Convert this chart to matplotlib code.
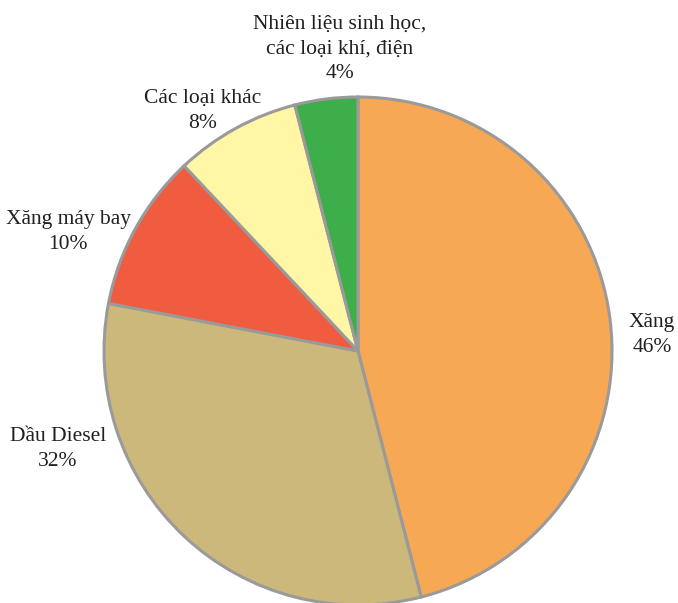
import matplotlib.pyplot as plt

plt.rcParams['font.family'] = ['Liberation Serif', 'DejaVu Serif']

# Energy share by fuel type (%)
labels = ['Xăng', 'Dầu Diesel', 'Xăng máy bay', 'Các loại khác',
          'Nhiên liệu sinh học,\ncác loại khí, điện']
shares = [46, 32, 10, 8, 4]
colors = ['#F7A854', '#CDB87B', '#EF5C40', '#FFF6A6', '#3EAE4B']

# label anchor points in pixel space (x, y from top)
label_pos = [(652, 335), (58, 449), (68, 232), (203, 111), (340, 49)]

W, H = 678, 603
fig = plt.figure(figsize=(W / 100, H / 100), dpi=100)
ax = fig.add_axes([0, 0, 1, 1])

cx, cy, r = 358, H - 351, 254
ax.pie(shares, colors=colors, startangle=90, counterclock=False,
       center=(cx, cy), radius=r,
       wedgeprops=dict(edgecolor='#9A9A9A', linewidth=2.2))

for lab, val, (x, y) in zip(labels, shares, label_pos):
    ax.text(x, H - y, f'{lab}\n{val}%', ha='center', va='center',
            fontsize=15.5, color='#231F20', linespacing=1.4)

ax.set_xlim(0, W)
ax.set_ylim(0, H)
ax.set_aspect('equal')
ax.axis('off')

plt.savefig('out.png', dpi=100, facecolor='white')
